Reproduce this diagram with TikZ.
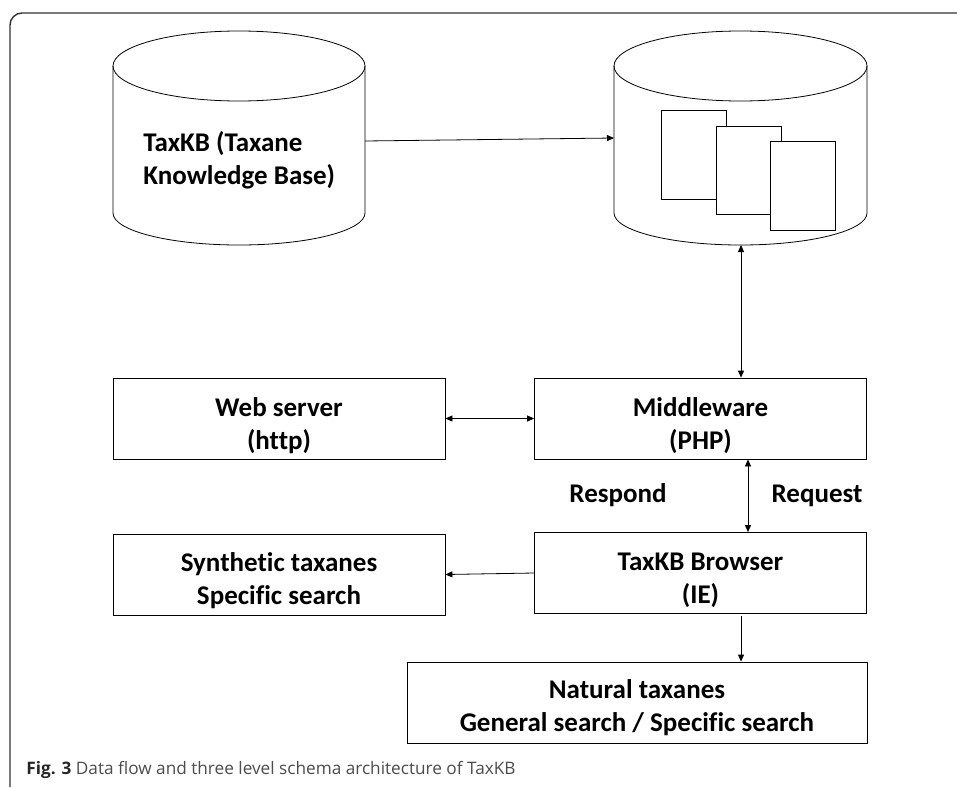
\documentclass[tikz,border=0pt]{standalone}
\usepackage{fontspec}
\setmainfont{Carlito}[Ligatures={NoCommon}]
\newfontfamily\capfont{Open Sans}
\usetikzlibrary{arrows.meta}
\begin{document}
\begin{tikzpicture}[x=1pt,y=-1pt,
  line width=0.8pt,
  box/.style={draw, line width=0.8pt, minimum width=332pt, minimum height=81pt, inner sep=0pt},
  lbl/.style={font=\fontsize{27}{33}\selectfont\bfseries, inner sep=0pt, align=center},
  doc/.style={draw, fill=white, line width=0.8pt, minimum width=65pt, minimum height=89pt, inner sep=0pt},
  arr/.style={-{Triangle[length=7pt,width=6pt]}},
  darr/.style={{Triangle[length=7pt,width=6pt]}-{Triangle[length=7pt,width=6pt]}}
]
\useasboundingbox (0,0) rectangle (957,787);
% frame
\draw[line width=1.4pt, black!80] (10,787) -- (10,25) arc[start angle=180, end angle=90, radius=12pt] -- (957,13);
% cylinder 1
\draw (113,66) -- (113,213) arc[start angle=180, end angle=360, x radius=126pt, y radius=32pt] -- (365,66);
\draw (239,66) ellipse[x radius=126pt, y radius=35pt];
\node[lbl, align=left, anchor=west] (db1) at (143,160) {TaxKB (Taxane\\Knowledge Base)};
\coordinate (db1r) at (365,141);
% cylinder 2
\draw (614,66) -- (614,213) arc[start angle=180, end angle=360, x radius=126.5pt, y radius=32pt] -- (867,66);
\draw (740.5,66) ellipse[x radius=126.5pt, y radius=35pt];
\coordinate (db2l) at (614,138);
\coordinate (db2b) at (741,245);
\node[doc] (d1) at (694,154.5) {};
\node[doc, minimum height=88pt] (d2) at (748.5,170) {};
\node[doc] (d3) at (802.5,185.5) {};
% boxes
\node[box] (ws) at (279,418.5) {};
\node[box] (mw) at (700.5,418.5) {};
\node[box] (br) at (700.5,573) {};
\node[box] (syn) at (279,574.5) {};
\node[box, minimum width=460pt] (nat) at (637,702.5) {};
\node[lbl] (wst) at ([yshift=-7pt]ws.center) {Web server\\(http)};
\node[lbl] (mwt) at ([yshift=-7pt]mw.center) {Middleware\\(PHP)};
\node[lbl] (brt) at ([yshift=-7pt]br.center) {TaxKB Browser\\(IE)};
\node[lbl] (synt) at ([yshift=-6pt]syn.center) {Synthetic taxanes\\Specific search};
\node[lbl] (natt) at ([yshift=-5pt]nat.center) {Natural taxanes\\General search / Specific search};
\node[lbl, anchor=base] (resp) at (618,502) {Respond};
\node[lbl, anchor=base] (req) at (817,502) {Request};
% connectors
\draw[arr] (db1r) -- (db2l);
\draw[darr] (db2b) -- (db2b |- mw.north);
\draw[darr] (ws.east) -- (mw.west);
\draw[darr] ([xshift=47.5pt]mw.south) -- ([xshift=47.5pt]br.north);
\draw[arr] (br.west) -- (syn.east);
\coordinate (brs) at (741,616);
\draw[arr] (brs) -- (brs |- nat.north);
% caption
\node[anchor=west, inner sep=0pt, font=\capfont\fontsize{17.2}{20}\selectfont, text=black!70] (cap) at (26,770) {{\bfseries\color{black!85}Fig. 3} Data flow and three level schema architecture of TaxKB};
\end{tikzpicture}
\end{document}
